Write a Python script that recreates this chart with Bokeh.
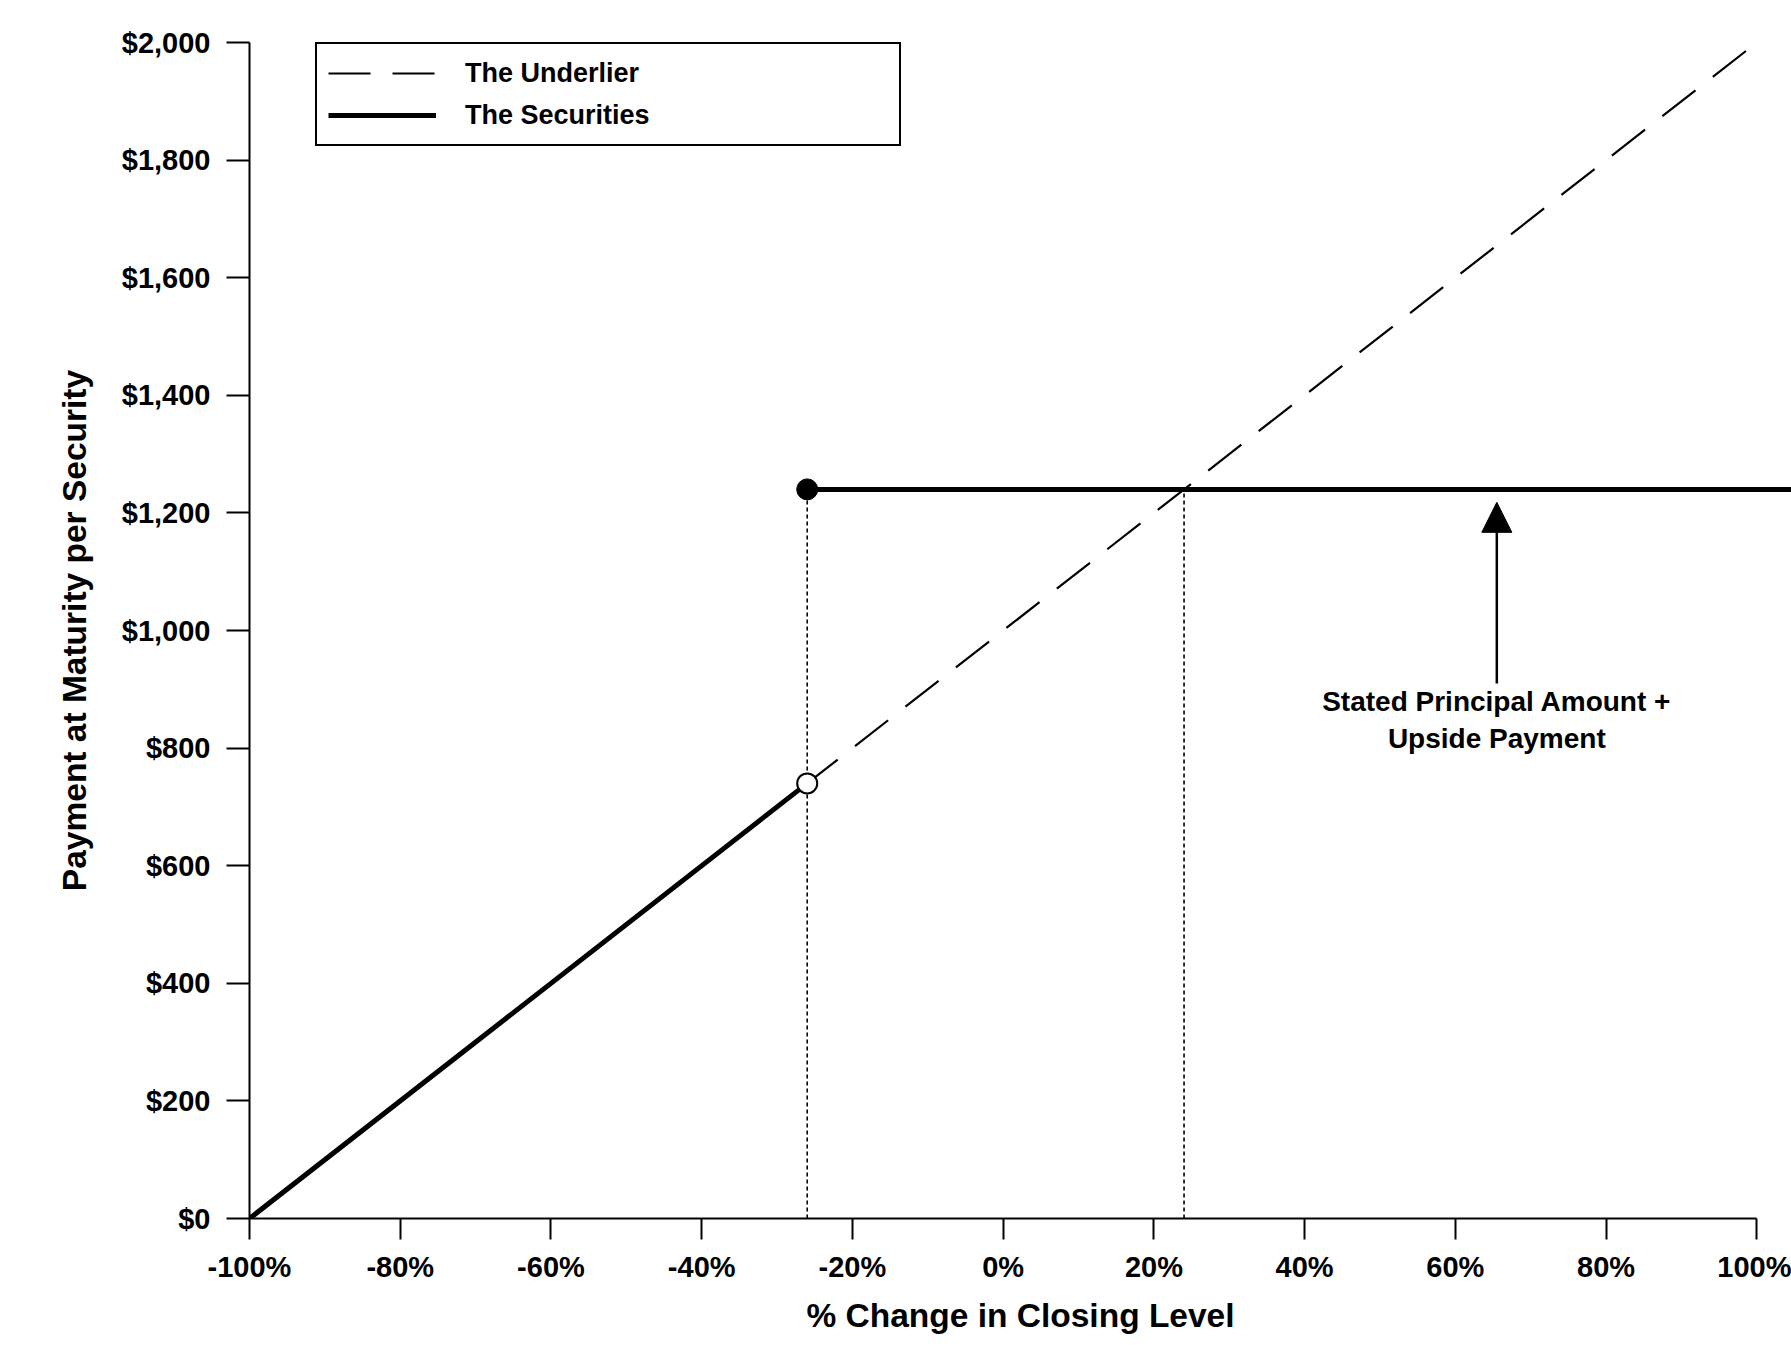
from bokeh.plotting import figure
from bokeh.models import (Range1d, FixedTicker, Legend, LegendItem, Arrow,
                          NormalHead, ColumnDataSource)
from bokeh.core.properties import value
from bokeh.embed import file_html
from bokeh.resources import INLINE

# ---- data ----
x_ticks = [-100, -80, -60, -40, -20, 0, 20, 40, 60, 80, 100]
x_tick_labels = ["-100%", "-80%", "-60%", "-40%", "-20%", "0%", "20%", "40%", "60%", "80%", "100%"]
y_ticks = [0, 200, 400, 600, 800, 1000, 1200, 1400, 1600, 1800, 2000]
y_tick_labels = ["$0", "$200", "$400", "$600", "$800", "$1,000", "$1,200", "$1,400", "$1,600", "$1,800", "$2,000"]

underlier_x = [-100, 100]
underlier_y = [0, 2000]

securities_low_x = [-100, -26]
securities_low_y = [0, 740]
securities_cap_x = [-26, 110]
securities_cap_y = [1240, 1240]

open_pt_x = [-26]
open_pt_y = [740]
closed_pt_x = [-26]
closed_pt_y = [1240]

guide_x = [-26, 24]
guide_y0 = [0, 0]
guide_y1 = [1240, 1240]

arrow_x = [65.5]
arrow_y_start = [910]
arrow_y_end = [1218]

note_x = [65.5, 65.5]
note_y = [910, 910]
note_text = ["Stated Principal Amount +", "Upside Payment"]

FONT = "Liberation Sans"

p = figure(width=1791, height=1358,
           x_range=Range1d(-100, 104.6), y_range=Range1d(0, 2000),
           output_backend="svg", toolbar_location=None,
           min_border_left=249, min_border_right=0,
           min_border_top=42, min_border_bottom=140,
           background_fill_color="white", border_fill_color="white")
p.xgrid.visible = False
p.ygrid.visible = False
p.outline_line_color = None

# axes
for ax in (p.xaxis[0], p.yaxis[0]):
    ax.axis_line_color = "black"
    ax.axis_line_width = 2
    ax.major_tick_line_color = "black"
    ax.major_tick_line_width = 2
    ax.major_tick_in = 0
    ax.minor_tick_line_color = None
    ax.major_label_text_font = FONT
    ax.major_label_text_font_style = "bold"
    ax.major_label_text_font_size = "29px"
    ax.major_label_text_color = "black"
    ax.axis_label_text_font = FONT
    ax.axis_label_text_font_style = "bold"
    ax.axis_label_text_color = "black"

xa = p.xaxis[0]
xa.ticker = FixedTicker(ticks=x_ticks)
xa.major_label_overrides = {t: l for t, l in zip(x_ticks, x_tick_labels)}
xa.bounds = (x_ticks[0], x_ticks[-1])
xa.major_tick_out = 21
xa.major_label_standoff = 11
xa.axis_label = "% Change in Closing Level"
xa.axis_label_text_font_size = "33.5px"
xa.axis_label_standoff = 11

ya = p.yaxis[0]
ya.ticker = FixedTicker(ticks=y_ticks)
ya.major_label_overrides = {t: l for t, l in zip(y_ticks, y_tick_labels)}
ya.bounds = (y_ticks[0], y_ticks[-1])
ya.major_tick_out = 23
ya.major_label_standoff = 16
ya.axis_label = "Payment at Maturity per Security"
ya.axis_label_text_font_size = "33.5px"
ya.axis_label_standoff = 26

# guide lines
p.segment(x0=guide_x, y0=guide_y0, x1=guide_x, y1=guide_y1,
          line_color="black", line_width=1.6, line_dash="4 3")

# underlier
r_under = p.line(underlier_x, underlier_y, line_color="black", line_width=2.2,
                 line_dash="42 22")

# securities
r_sec = p.line(securities_low_x, securities_low_y, line_color="black", line_width=5)
p.line(securities_cap_x, securities_cap_y, line_color="black", line_width=5)

p.scatter(closed_pt_x, closed_pt_y, size=21, fill_color="black", line_color="black")
p.scatter(open_pt_x, open_pt_y, size=20, fill_color="white", line_color="black", line_width=2)

# arrow
asrc = ColumnDataSource(dict(x0=arrow_x, y0=arrow_y_start, x1=arrow_x, y1=arrow_y_end))
p.add_layout(Arrow(source=asrc, x_start="x0", y_start="y0", x_end="x1", y_end="y1",
                   line_color="black", line_width=2.5,
                   end=NormalHead(size=30, fill_color="black", line_color="black")))

# note text
p.text(x=note_x, y=note_y, text=note_text, x_offset=[0, 0], y_offset=[18, 55],
       text_font=value(FONT), text_font_style="bold", text_font_size="28px",
       text_color="black", text_align="center", text_baseline="alphabetic")

legend = Legend(items=[LegendItem(label="The Underlier", renderers=[r_under]),
                       LegendItem(label="The Securities", renderers=[r_sec])],
                location=(66, 1072),
                label_text_font=FONT, label_text_font_style="bold",
                label_text_font_size="27px", label_text_color="black",
                glyph_width=108, glyph_height=36, label_height=36,
                label_width=423, label_standoff=29,
                spacing=6, padding=11, margin=0,
                border_line_color="black", border_line_width=2,
                border_line_alpha=1.0,
                background_fill_color="white", background_fill_alpha=1.0)
p.add_layout(legend, "center")

open("out.html", "w").write(file_html(p, INLINE))
